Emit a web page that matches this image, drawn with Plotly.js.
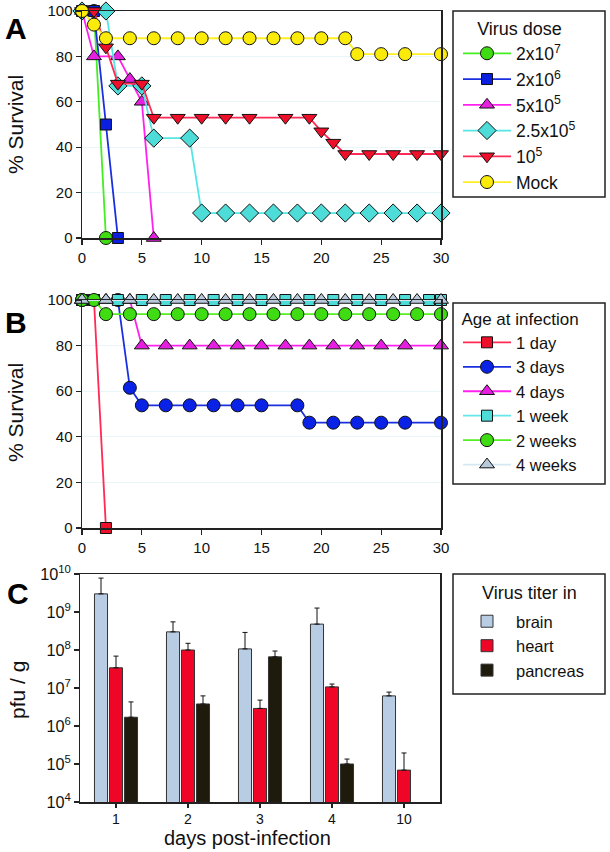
<!DOCTYPE html>
<html>
<head>
<meta charset="utf-8">
<script src="https://cdn.plot.ly/plotly-3.0.1.min.js"></script>
<style>html,body{margin:0;padding:0;background:#fff}#chart{width:610px;height:852px}</style>
</head>
<body>
<div id="chart"></div>
<script>
// ---------- Panel A: survival by virus dose ----------
const doseNames = ['2x10<sup>7</sup>', '2x10<sup>6</sup>', '5x10<sup>5</sup>', '2.5x10<sup>5</sup>', '10<sup>5</sup>', 'Mock'];
const daysDose2e7 = [0, 1, 2];
const survDose2e7 = [100, 100, 0];
const daysDose2e6 = [0, 1, 2, 3];
const survDose2e6 = [100, 100, 50, 0];
const daysDose5e5 = [0, 1, 3, 4, 5, 6];
const survDose5e5 = [100, 80, 80, 70, 60, 0];
const daysDose25e4 = [0, 2, 3, 5, 6, 9, 10, 12, 14, 16, 18, 20, 22, 24, 26, 28, 30];
const survDose25e4 = [100, 100, 67, 67, 44, 44, 11, 11, 11, 11, 11, 11, 11, 11, 11, 11, 11];
const daysDose1e5 = [0, 1, 2, 3, 5, 6, 8, 10, 12, 14, 17, 19, 20, 21, 22, 24, 26, 28, 30];
const survDose1e5 = [100, 100, 84, 68, 68, 53, 53, 53, 53, 53, 53, 53, 47, 42, 37, 37, 37, 37, 37];
const daysMock = [0, 1, 2, 4, 6, 8, 10, 12, 14, 16, 18, 20, 22, 23, 25, 27, 30];
const survMock = [100, 94, 88, 88, 88, 88, 88, 88, 88, 88, 88, 88, 88, 81, 81, 81, 81];

// ---------- Panel B: survival by age at infection ----------
const ageNames = ['1 day', '3 days', '4 days', '1 week', '2 weeks', '4 weeks'];
const daysAge1d = [0, 1, 2];
const survAge1d = [100, 100, 0];
const daysAge3d = [0, 3, 4, 5, 7, 9, 11, 13, 15, 18, 19, 21, 23, 25, 27, 30];
const survAge3d = [100, 100, 61.5, 53.8, 53.8, 53.8, 53.8, 53.8, 53.8, 53.8, 46.2, 46.2, 46.2, 46.2, 46.2, 46.2];
const daysAge4d = [0, 2, 4, 5, 7, 9, 11, 13, 15, 17, 19, 21, 23, 25, 27, 30];
const survAge4d = [100, 100, 100, 80, 80, 80, 80, 80, 80, 80, 80, 80, 80, 80, 80, 80];
const daysAge1w = [0, 1, 3, 5, 7, 9, 11, 13, 15, 17, 19, 21, 23, 25, 27, 29, 30];
const survAge1w = [100, 100, 100, 100, 100, 100, 100, 100, 100, 100, 100, 100, 100, 100, 100, 100, 100];
const daysAge2w = [0, 1, 2, 4, 6, 8, 10, 12, 14, 16, 18, 20, 22, 24, 26, 28, 30];
const survAge2w = [100, 100, 93.8, 93.8, 93.8, 93.8, 93.8, 93.8, 93.8, 93.8, 93.8, 93.8, 93.8, 93.8, 93.8, 93.8, 93.8];
const daysAge4w = [0, 2, 4, 6, 8, 10, 12, 14, 16, 18, 20, 22, 24, 26, 28, 30];
const survAge4w = [100, 100, 100, 100, 100, 100, 100, 100, 100, 100, 100, 100, 100, 100, 100, 100];

// ---------- Panel C: virus titer ----------
const titerDays = ['1', '2', '3', '4', '10'];
const tissueNames = ['brain', 'heart', 'pancreas'];
const titerBrain = [3.0e9, 3.0e8, 1.07e8, 4.8e8, 6.2e6];
const titerBrainTop = [7.8e9, 5.5e8, 2.9e8, 1.27e9, 7.8e6];
const titerHeart = [3.4e7, 1.0e8, 2.9e6, 1.07e7, 6.9e4];
const titerHeartTop = [6.9e7, 1.5e8, 4.8e6, 1.27e7, 1.95e5];
const titerPancreas = [1.7e6, 3.8e6, 6.6e7, 1.0e5, null];
const titerPancreasTop = [4.3e6, 6.2e6, 9.4e7, 1.35e5, null];

const FONT = 'Liberation Sans, Arial, Helvetica, sans-serif';
const W = 610, H = 852;
const px = v => v / W;
const py = v => 1 - v / H;

function surv(x, y, name, lineColor, fill, symbol, size, axes, legend) {
  return {
    type: 'scatter', mode: 'lines+markers', x: x, y: y, name: name,
    xaxis: axes[0], yaxis: axes[1], legend: legend, cliponaxis: false,
    line: {color: lineColor, width: 1.8},
    marker: {color: fill, symbol: symbol, size: size, line: {color: '#111', width: 1}}
  };
}

const traces = [
  surv(daysDose2e7, survDose2e7, doseNames[0], '#44ee22', '#3fdc14', 'circle', 13, ['x', 'y'], 'legend'),
  surv(daysDose2e6, survDose2e6, doseNames[1], '#1a2fe0', '#0a1fe0', 'square', 11, ['x', 'y'], 'legend'),
  surv(daysDose5e5, survDose5e5, doseNames[2], '#ff22ee', '#e61ee0', 'triangle-up', 13, ['x', 'y'], 'legend'),
  surv(daysDose25e4, survDose25e4, doseNames[3], '#55e6e6', '#4ddcd8', 'diamond', 14, ['x', 'y'], 'legend'),
  surv(daysDose1e5, survDose1e5, doseNames[4], '#ff2a55', '#ee0f2a', 'triangle-down', 13, ['x', 'y'], 'legend'),
  surv(daysMock, survMock, doseNames[5], '#ffee22', '#fbeb0a', 'circle', 13, ['x', 'y'], 'legend'),

  surv(daysAge1d, survAge1d, ageNames[0], '#ff2a55', '#ee0f2a', 'square', 11, ['x2', 'y2'], 'legend2'),
  surv(daysAge3d, survAge3d, ageNames[1], '#1a2fe0', '#0a22e6', 'circle', 13, ['x2', 'y2'], 'legend2'),
  surv(daysAge4d, survAge4d, ageNames[2], '#ff22ee', '#e61ee0', 'triangle-up', 13, ['x2', 'y2'], 'legend2'),
  surv(daysAge1w, survAge1w, ageNames[3], '#66e6e6', '#4ddcd8', 'square', 11, ['x2', 'y2'], 'legend2'),
  surv(daysAge2w, survAge2w, ageNames[4], '#55ee22', '#3fdc14', 'circle', 13, ['x2', 'y2'], 'legend2'),
  surv(daysAge4w, survAge4w, ageNames[5], '#d4e8f2', '#b9c9dc', 'triangle-up', 13, ['x2', 'y2'], 'legend2')
];

function barTrace(vals, tops, name, color) {
  return {
    type: 'bar', x: titerDays, y: vals, name: name, xaxis: 'x3', yaxis: 'y3', legend: 'legend3',
    marker: {color: color, line: {color: '#333', width: 1}},
    error_y: {type: 'data', symmetric: false,
      array: vals.map((v, i) => v == null ? null : tops[i] - v),
      arrayminus: vals.map(() => 0),
      color: '#111', thickness: 1, width: 2.5}
  };
}
traces.push(barTrace(titerBrain, titerBrainTop, tissueNames[0], '#b8cce4'));
traces.push(barTrace(titerHeart, titerHeartTop, tissueNames[1], '#ef0525'));
traces.push(barTrace(titerPancreas, titerPancreasTop, tissueNames[2], '#1e1a0c'));

const axCommon = {
  showline: true, mirror: true, linecolor: '#222', linewidth: 1.5,
  ticks: 'outside', ticklen: 5, tickwidth: 1.2, tickcolor: '#222',
  zeroline: false, tickfont: {family: FONT, size: 15, color: '#111'}
};

const legCommon = {
  xanchor: 'left', yanchor: 'top', bgcolor: 'rgba(0,0,0,0)', borderwidth: 0,
  itemwidth: 48, tracegroupgap: 0, itemclick: false
};

const boxShape = (x0, y0, x1, y1) => ({
  type: 'rect', xref: 'paper', yref: 'paper',
  x0: px(x0), x1: px(x1), y0: py(y1), y1: py(y0),
  line: {color: '#222', width: 1.5}, fillcolor: 'rgba(0,0,0,0)'
});

function label(text, x, y, size, angle) {
  return {text: text, x: px(x), y: py(y), xref: 'paper', yref: 'paper', showarrow: false,
    xanchor: 'center', yanchor: 'middle', textangle: angle || 0,
    font: {family: FONT, size: size, color: '#111'}};
}

const layout = {
  width: W, height: H, margin: {l: 0, r: 0, t: 0, b: 0},
  paper_bgcolor: '#fff', plot_bgcolor: '#fff',
  font: {family: FONT, color: '#111'},
  barmode: 'group', bargap: 0.375, bargroupgap: 0.13,
  xaxis: Object.assign({}, axCommon, {domain: [px(82), px(441)], range: [0, 30], tickvals: [0, 5, 10, 15, 20, 25, 30], anchor: 'y', showgrid: false}),
  yaxis: Object.assign({}, axCommon, {domain: [py(238), py(11)], range: [0, 100], tickvals: [0, 20, 40, 60, 80, 100], anchor: 'x', showgrid: true, gridcolor: '#e9f6f8', gridwidth: 1}),
  xaxis2: Object.assign({}, axCommon, {domain: [px(82), px(441)], range: [0, 30], tickvals: [0, 5, 10, 15, 20, 25, 30], anchor: 'y2', showgrid: false}),
  yaxis2: Object.assign({}, axCommon, {domain: [py(528), py(300)], range: [0, 100], tickvals: [0, 20, 40, 60, 80, 100], anchor: 'x2', showgrid: true, gridcolor: '#e9f6f8', gridwidth: 1}),
  xaxis3: Object.assign({}, axCommon, {domain: [px(80), px(440)], type: 'category', categoryorder: 'array', categoryarray: titerDays, anchor: 'y3', showgrid: false, ticklen: 4, tickfont: {family: FONT, size: 14, color: '#111'}}),
  yaxis3: Object.assign({}, axCommon, {domain: [py(802), py(574)], type: 'log', range: [4, 10], dtick: 1, exponentformat: 'power', showexponent: 'all', anchor: 'x3', showgrid: false, tickfont: {family: FONT, size: 13, color: '#111'}}),
  legend: Object.assign({}, legCommon, {x: px(458), y: py(12), font: {family: FONT, size: 17.5, color: '#111'},
    title: {text: 'Virus dose', side: 'top center', font: {family: FONT, size: 18, color: '#111'}}}),
  legend2: Object.assign({}, legCommon, {x: px(458), y: py(303), font: {family: FONT, size: 16.5, color: '#111'},
    title: {text: 'Age at infection', side: 'top center', font: {family: FONT, size: 17, color: '#111'}}}),
  legend3: Object.assign({}, legCommon, {x: px(458), y: py(604), font: {family: FONT, size: 16.5, color: '#111'}}),
  shapes: [boxShape(453, 11, 605, 197), boxShape(453, 303, 605, 484), boxShape(453, 574, 605, 694)],
  annotations: [
    Object.assign(label('<b>A</b>', 16, 28, 30), {font: {family: FONT, size: 30, color: '#000'}}),
    Object.assign(label('<b>B</b>', 16, 322, 30), {font: {family: FONT, size: 30, color: '#000'}}),
    Object.assign(label('<b>C</b>', 18, 593, 30), {font: {family: FONT, size: 30, color: '#000'}}),
    label('% Survival', 15, 125, 21, -90),
    label('% Survival', 15, 413, 21, -90),
    label('pfu / g', 17, 690, 21, -90),
    label('days post-infection', 247, 838, 20),
    label('Virus titer in', 529, 593, 18)
  ]
};

Plotly.newPlot('chart', traces, layout, {displayModeBar: false, staticPlot: true});
</script>
</body>
</html>
